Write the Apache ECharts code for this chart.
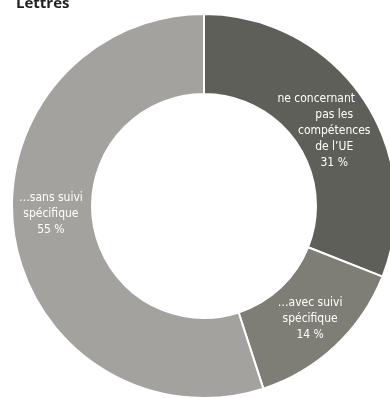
<!DOCTYPE html>
<html>
<head>
<meta charset="utf-8">
<script src="https://cdn.jsdelivr.net/npm/echarts@6/dist/echarts.min.js"></script>
<style>
  html, body { margin: 0; padding: 0; background: #fff; }
  #chart { width: 390px; height: 398px; }
</style>
</head>
<body>
<div id="chart"></div>
<script>
var categories = [
  'ne concernant\npas les\ncompétences\nde l\u2019UE',
  '\u2026avec suivi\nspécifique',
  '\u2026sans suivi\nspécifique'
];
var values = [31, 14, 55];
var colors = ['#5d5f58', '#7e7d76', '#a3a29e'];
// nudge of each label inside its slice
var labelShiftX = [2, 0, 0];
var labelShiftY = [12, 0, -16];

var txt = {
  color: '#fff',
  fontFamily: 'DejaVu Sans Condensed',
  fontSize: 12,
  lineHeight: 16
};

var chart = echarts.init(document.getElementById('chart'));
chart.setOption({
  animation: false,
  title: {
    text: 'Lettres',
    left: 11,
    top: -9,
    textStyle: { fontFamily: 'Open Sans', fontWeight: 'bold', fontSize: 15, color: '#222' }
  },
  series: [{
    type: 'pie',
    center: [204, 206],
    radius: [112, 192],
    startAngle: 90,
    clockwise: true,
    itemStyle: { borderColor: '#fff', borderWidth: 2 },
    label: Object.assign({
      position: 'inside',
      align: 'center',
      overflow: 'none',
      rich: {
        first: Object.assign({ padding: [0, 36, 0, 0] }, txt)
      },
      formatter: function (p) {
        var lines = p.name.split('\n');
        if (p.dataIndex === 0) lines[0] = '{first|' + lines[0] + '}';
        return lines.join('\n') + '\n' + p.value + ' %';
      }
    }, txt),
    labelLayout: function (p) {
      return { dx: labelShiftX[p.dataIndex], dy: labelShiftY[p.dataIndex] };
    },
    labelLine: { show: false },
    data: categories.map(function (c, i) {
      return { name: c, value: values[i], itemStyle: { color: colors[i] } };
    })
  }]
});
</script>
</body>
</html>
